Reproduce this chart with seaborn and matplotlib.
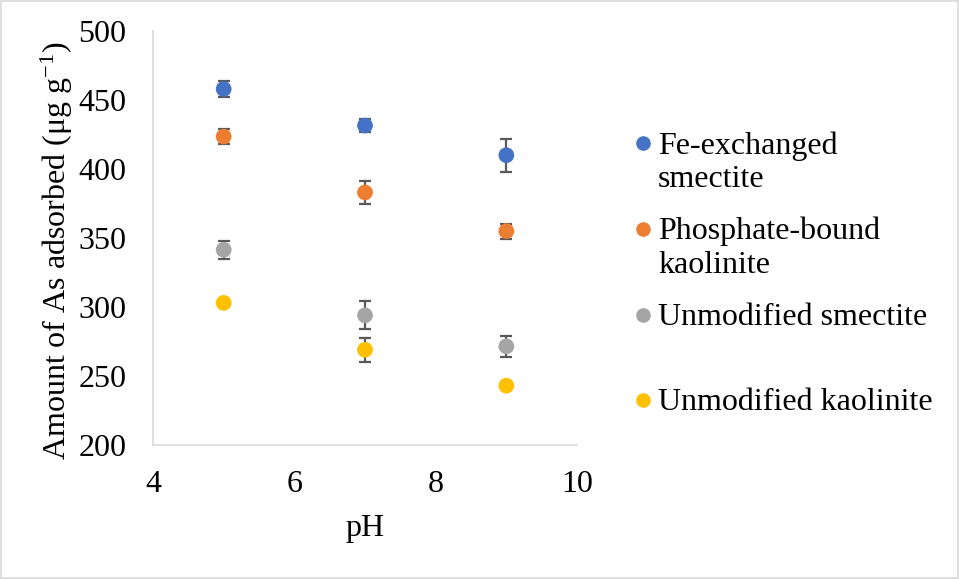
import numpy as np
import pandas as pd
import matplotlib
matplotlib.use("Agg")
import matplotlib.pyplot as plt
import seaborn as sns
from matplotlib.patches import Rectangle
from matplotlib.lines import Line2D
from matplotlib.legend_handler import HandlerLine2D

ph = [5, 7, 9]
series = ["Fe-exchanged smectite", "Phosphate-bound kaolinite",
          "Unmodified smectite", "Unmodified kaolinite"]
legend_labels = ["Fe-exchanged\nsmectite", "Phosphate-bound\nkaolinite",
                 "Unmodified smectite\n ", "Unmodified kaolinite\n "]
fe_smectite = [458, 431.5, 410]
fe_smectite_err = [6, 5, 12]
p_kaolinite = [423.5, 383, 355]
p_kaolinite_err = [5.5, 8, 5.5]
u_smectite = [341.5, 294, 271.5]
u_smectite_err = [6.5, 10, 7.5]
u_kaolinite = [303, 269, 243]
u_kaolinite_err = [2.5, 8.5, 2.5]
colors = ["#4472C4", "#ED7D31", "#A5A5A5", "#FFC000"]

rows = []
for name, vals, errs in zip(series,
                            [fe_smectite, p_kaolinite, u_smectite, u_kaolinite],
                            [fe_smectite_err, p_kaolinite_err, u_smectite_err, u_kaolinite_err]):
    for x, v, e in zip(ph, vals, errs):
        rows.append({"pH": x, "value": v, "err": e, "series": name})
df = pd.DataFrame(rows)

sns.set_style("white")
plt.rcParams["font.family"] = ["Liberation Serif", "DejaVu Serif"]
plt.rcParams["mathtext.default"] = "regular"
plt.rcParams["text.color"] = "black"
plt.rcParams["axes.labelcolor"] = "black"
FS = 23

fig = plt.figure(figsize=(9.59, 5.79), dpi=100)
ax = fig.add_axes([153 / 959, 1 - 445 / 579, (577 - 153) / 959, (445 - 31) / 579])

for name, c in zip(series, colors):
    sub = df[df["series"] == name]
    ax.errorbar(sub["pH"], sub["value"], yerr=sub["err"], fmt="none",
                ecolor="#595959", elinewidth=1.6, capsize=4.3, capthick=1.6, zorder=2)

sns.scatterplot(data=df, x="pH", y="value", hue="series", hue_order=series,
                palette=colors, s=128, edgecolor="none", ax=ax, zorder=3, legend=False)

ax.set_xlim(4, 10)
ax.set_ylim(200, 500)
ax.set_xticks([4, 6, 8, 10])
ax.set_yticks(np.arange(200, 501, 50))
ax.tick_params(axis="both", length=0, labelsize=FS, colors="black")
ax.tick_params(axis="y", pad=19)
ax.tick_params(axis="x", pad=18)
for s in ["top", "right"]:
    ax.spines[s].set_visible(False)
for s in ["left", "bottom"]:
    ax.spines[s].set_color("#D9D9D9")
    ax.spines[s].set_linewidth(1.2)

ax.set_xlabel("pH", fontsize=FS, labelpad=11)
ax.set_ylabel("Amount of As adsorbed (μg g$^{-1}$)", fontsize=FS)
ax.yaxis.set_label_coords(-0.183, 0.47)


class HandlerFirstLine(HandlerLine2D):
    def create_artists(self, legend, orig_handle, xdescent, ydescent,
                       width, height, fontsize, trans):
        artists = super().create_artists(legend, orig_handle, xdescent, ydescent,
                                         width, height, fontsize, trans)
        for a in artists:
            a.set_ydata(np.asarray(a.get_ydata(), dtype=float) + 0.6 * fontsize)
        return artists


handles = [Line2D([], [], linestyle="none", marker="o", markersize=10.5,
                  markerfacecolor=c, markeredgecolor="none") for c in colors]
leg = fig.legend(handles, legend_labels, loc="upper left",
                 bbox_to_anchor=(635 / 959, 1 - 131 / 579),
                 frameon=False, fontsize=FS, handlelength=0.5,
                 handletextpad=0.22, labelspacing=0.72, borderpad=0,
                 borderaxespad=0,
                 handler_map={Line2D: HandlerFirstLine()})

fig.patches.append(Rectangle((0.0015, 0.002), 0.997, 0.996, transform=fig.transFigure,
                             fill=False, edgecolor="#D9D9D9", linewidth=1.2))

fig.savefig("out.png", dpi=100)
